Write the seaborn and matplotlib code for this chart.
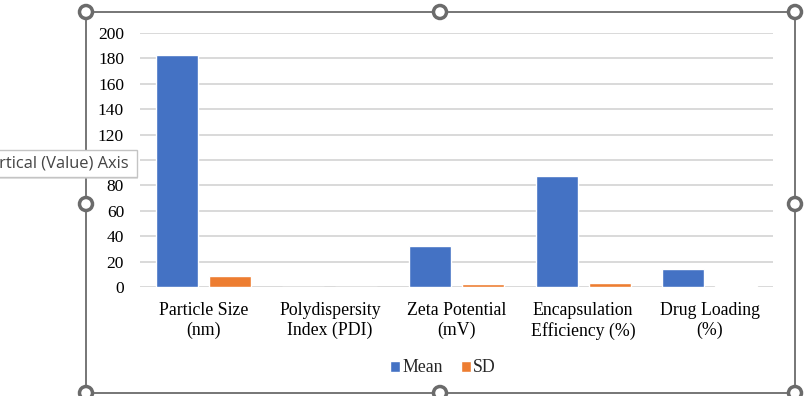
import matplotlib
matplotlib.use("Agg")
import matplotlib.pyplot as plt
import seaborn as sns
import pandas as pd
from matplotlib.patches import Circle, Rectangle, Patch

# ---- data ----
categories = ["Particle Size\n(nm)", "Polydispersity\nIndex (PDI)", "Zeta Potential\n(mV)",
              "Encapsulation\nEfficiency (%)", "Drug Loading\n(%)"]
mean_values = [182.5, 0.2, 32.0, 87.5, 14.0]
sd_values = [8.5, 0.02, 2.0, 3.0, 0.5]
series_names = ["Mean", "SD"]
y_ticks = [0, 20, 40, 60, 80, 100, 120, 140, 160, 180, 200]

df = pd.DataFrame({
    "Category": categories * 2,
    "Series": [series_names[0]] * len(categories) + [series_names[1]] * len(categories),
    "Value": mean_values + sd_values,
})

sns.set_theme(style="white")
plt.rcParams["font.family"] = ["Liberation Serif", "DejaVu Serif"]

W, H = 809, 396
fig = plt.figure(figsize=(W / 100, H / 100), dpi=100)
ax = fig.add_axes([140 / W, 1 - 287 / H, (773 - 140) / W, (287 - 33) / H])

sns.barplot(data=df, x="Category", y="Value", hue="Series", order=categories,
            hue_order=series_names, palette=["#4472C4", "#ED7D31"],
            width=0.84, gap=0.21, saturation=1, ax=ax, legend=False, zorder=3)

ax.set_ylim(0, 200)
ax.set_xlim(-0.5, len(categories) - 0.5)
ax.set_yticks(y_ticks)
ax.yaxis.grid(True, color="#d9d9d9", linewidth=1.4, zorder=0)
ax.set_axisbelow(True)
for s in ax.spines.values():
    s.set_visible(False)
ax.set_xlabel("")
ax.set_ylabel("")
ax.tick_params(axis="y", length=0, pad=11.5, labelsize=12.5, colors="#000000")
ax.tick_params(axis="x", length=0, pad=11, labelsize=12.8, colors="#000000")
for lbl in ax.get_xticklabels():
    lbl.set_linespacing(1.18)

# legend
handles = [Patch(facecolor="#4472C4"), Patch(facecolor="#ED7D31")]
fig.legend(handles, series_names, loc="center", bbox_to_anchor=(443 / W, 1 - 368 / H),
           ncol=2, frameon=False, fontsize=12.8, handlelength=0.55, handleheight=0.55,
           handletextpad=0.15, columnspacing=1.0)

# ---- overlay: selection frame, handles, tooltip ----
ov = fig.add_axes([0, 0, 1, 1], zorder=10)
ov.set_xlim(0, W)
ov.set_ylim(H, 0)
ov.axis("off")
ov.patch.set_alpha(0)
gray = "#6b6b6b"
x0, x1, y0, y1 = 86, 795, 12, 393
ov.add_patch(Rectangle((x0, y0), x1 - x0, y1 - y0, fill=False, edgecolor=gray, linewidth=1.3))
xm, ym = 440, 204
for (cx, cy) in [(x0, y0), (xm, y0), (x1, y0), (x0, ym), (x1, ym), (x0, y1), (xm, y1), (x1, y1)]:
    ov.add_patch(Circle((cx, cy), 6.5, facecolor="white", edgecolor=gray, linewidth=2.5, zorder=5))
# tooltip
ov.add_patch(Rectangle((-5, 152), 143, 27, facecolor="#c8c8c8", edgecolor="none", alpha=0.5, zorder=6))
ov.add_patch(Rectangle((-5, 150), 142, 26.5, facecolor="white", edgecolor="#c4c4c4", linewidth=1, zorder=7))
ov.text(129, 164, "Vertical (Value) Axis", ha="right", va="center", fontsize=11.9,
        color="#444444", family=["Open Sans", "DejaVu Sans"], zorder=8)

fig.savefig("out.png", dpi=100, facecolor="white")
